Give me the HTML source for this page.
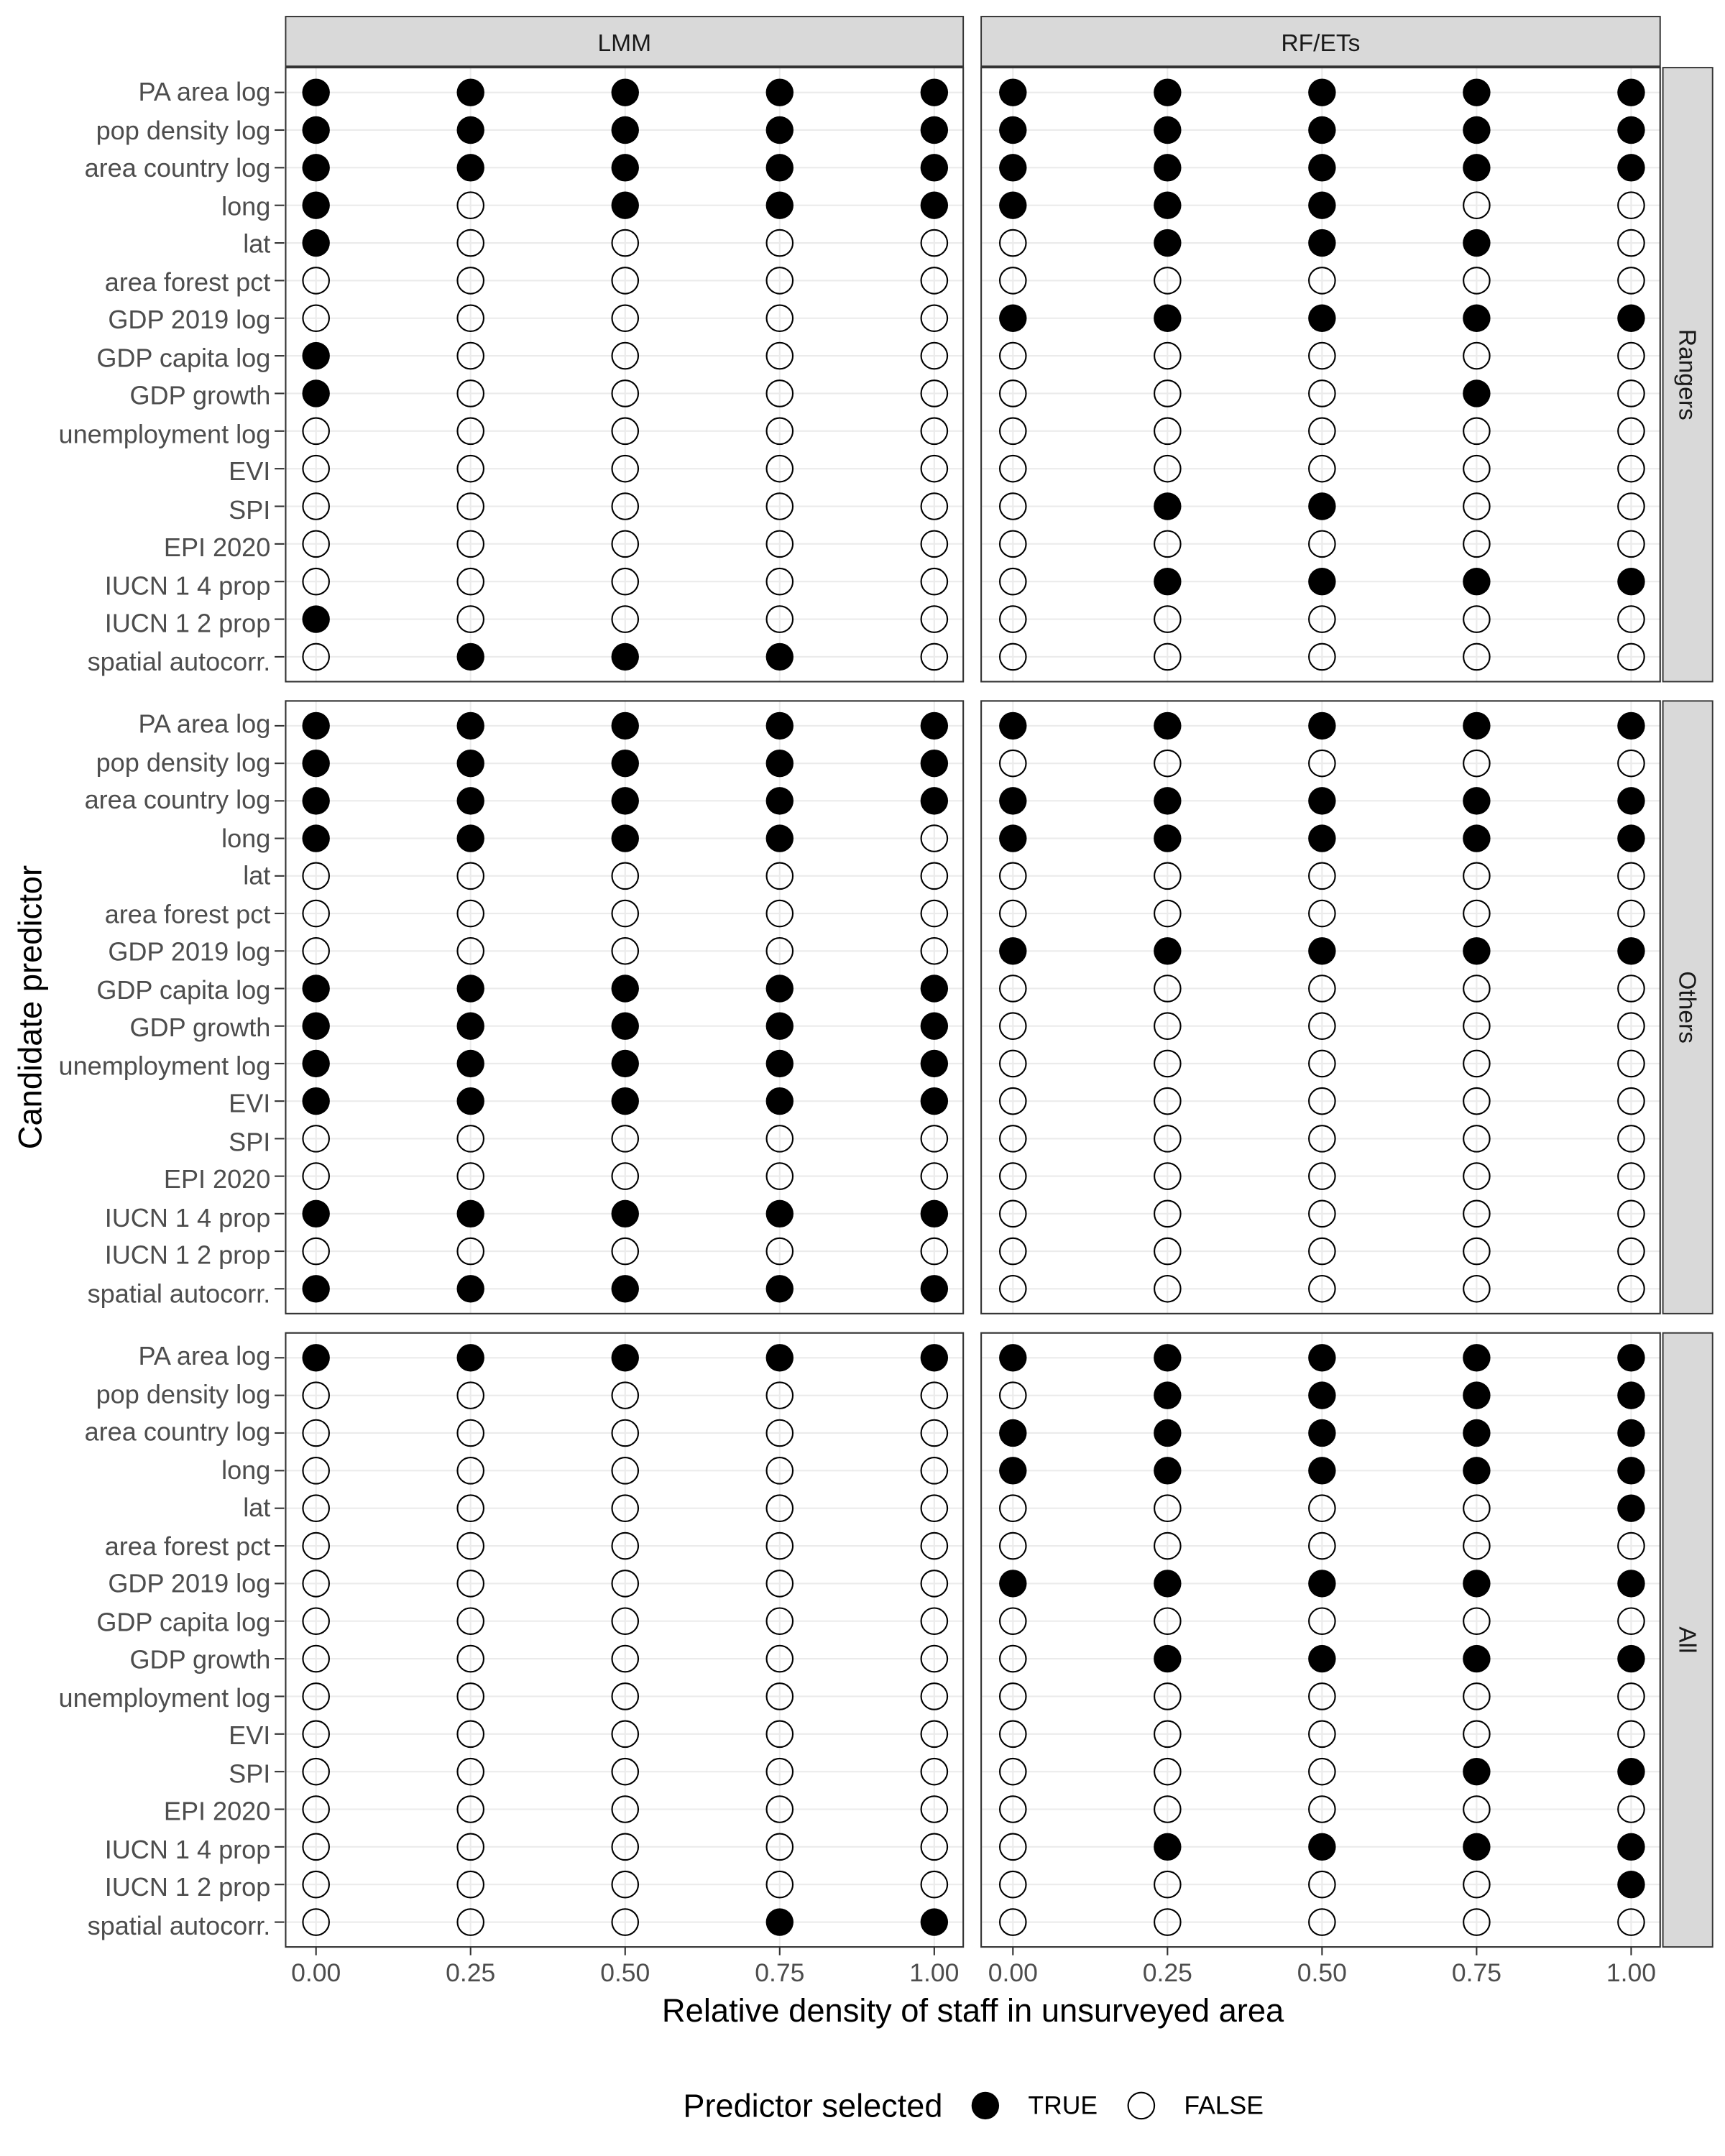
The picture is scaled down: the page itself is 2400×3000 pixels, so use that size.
<!DOCTYPE html>
<html><head><meta charset="utf-8"><style>
html,body{margin:0;padding:0;background:#fff;}
svg{display:block;}
text{font-family:"Liberation Sans",sans-serif;}
</style></head><body>
<svg id="s" width="2400" height="3000" viewBox="0 0 1250 1562.5" preserveAspectRatio="none" xmlns="http://www.w3.org/2000/svg">
<rect width="1250" height="1563" fill="#fff"/>
<g id="grid"></g>
<g id="pts"></g>
<rect x="207" y="12" width="491" height="36" fill="#d9d9d9" stroke="#333" stroke-width="1"/>
<rect x="711" y="12" width="492" height="36" fill="#d9d9d9" stroke="#333" stroke-width="1"/>
<text x="452.5" y="37" font-size="17.5" text-anchor="middle" fill="#1a1a1a">LMM</text>
<text x="957" y="37" font-size="17.5" text-anchor="middle" fill="#1a1a1a">RF/ETs</text>
<rect x="1205" y="49" width="36" height="445" fill="#d9d9d9" stroke="#333" stroke-width="1"/>
<rect x="1205" y="508" width="36" height="444" fill="#d9d9d9" stroke="#333" stroke-width="1"/>
<rect x="1205" y="966" width="36" height="445" fill="#d9d9d9" stroke="#333" stroke-width="1"/>
<text transform="translate(1217,271.5) rotate(90)" font-size="17.5" text-anchor="middle" fill="#1a1a1a">Rangers</text>
<text transform="translate(1217,730) rotate(90)" font-size="17.5" text-anchor="middle" fill="#1a1a1a">Others</text>
<text transform="translate(1217,1188.5) rotate(90)" font-size="17.5" text-anchor="middle" fill="#1a1a1a">All</text>
<g id="lab" font-size="18.8" fill="#4d4d4d" text-anchor="end">
<g>
<text x="196" y="73">PA area log</text><text x="196" y="101">pop density log</text><text x="196" y="128">area country log</text><text x="196" y="156">long</text><text x="196" y="183">lat</text><text x="196" y="211">area forest pct</text><text x="196" y="238">GDP 2019 log</text><text x="196" y="266">GDP capita log</text><text x="196" y="293">GDP growth</text><text x="196" y="321">unemployment log</text><text x="196" y="348">EVI</text><text x="196" y="376">SPI</text><text x="196" y="403">EPI 2020</text><text x="196" y="431">IUCN 1 4 prop</text><text x="196" y="458">IUCN 1 2 prop</text><text x="196" y="486">spatial autocorr.</text>
</g>
<g transform="translate(0,458)">
<text x="196" y="73">PA area log</text><text x="196" y="101">pop density log</text><text x="196" y="128">area country log</text><text x="196" y="156">long</text><text x="196" y="183">lat</text><text x="196" y="211">area forest pct</text><text x="196" y="238">GDP 2019 log</text><text x="196" y="266">GDP capita log</text><text x="196" y="293">GDP growth</text><text x="196" y="321">unemployment log</text><text x="196" y="348">EVI</text><text x="196" y="376">SPI</text><text x="196" y="403">EPI 2020</text><text x="196" y="431">IUCN 1 4 prop</text><text x="196" y="458">IUCN 1 2 prop</text><text x="196" y="486">spatial autocorr.</text>
</g>
<g transform="translate(0,916)">
<text x="196" y="73">PA area log</text><text x="196" y="101">pop density log</text><text x="196" y="128">area country log</text><text x="196" y="156">long</text><text x="196" y="183">lat</text><text x="196" y="211">area forest pct</text><text x="196" y="238">GDP 2019 log</text><text x="196" y="266">GDP capita log</text><text x="196" y="293">GDP growth</text><text x="196" y="321">unemployment log</text><text x="196" y="348">EVI</text><text x="196" y="376">SPI</text><text x="196" y="403">EPI 2020</text><text x="196" y="431">IUCN 1 4 prop</text><text x="196" y="458">IUCN 1 2 prop</text><text x="196" y="486">spatial autocorr.</text>
</g>
</g>
<g font-size="18.5" fill="#4d4d4d" text-anchor="middle">
<text x="229" y="1436">0.00</text><text x="341" y="1436">0.25</text><text x="453" y="1436">0.50</text><text x="565" y="1436">0.75</text><text x="677" y="1436">1.00</text>
<text x="734" y="1436">0.00</text><text x="846" y="1436">0.25</text><text x="958" y="1436">0.50</text><text x="1070" y="1436">0.75</text><text x="1182" y="1436">1.00</text>
</g>
<text x="705" y="1465" font-size="23.6" text-anchor="middle" fill="#000">Relative density of staff in unsurveyed area</text>
<text transform="translate(30,730) rotate(-90)" font-size="23.6" text-anchor="middle" fill="#000">Candidate predictor</text>
<text x="495" y="1534" font-size="23.5" fill="#000">Predictor selected</text>
<circle cx="714" cy="1526" r="10" fill="#000"/>
<text x="745" y="1532" font-size="18.5" fill="#000">TRUE</text>
<circle cx="827" cy="1526" r="9.5" fill="#fff" stroke="#000" stroke-width="1.1"/>
<text x="858" y="1532" font-size="18.5" fill="#000">FALSE</text>
</svg>
<script>
var NS="http://www.w3.org/2000/svg";
function el(p,t,a){var e=document.createElementNS(NS,t);for(var k in a)e.setAttribute(k,a[k]);p.appendChild(e);return e;}
var grid=document.getElementById('grid'),pts=document.getElementById('pts');
var panTop=[49,508,966],panBot=[494,952,1411];
var xs=[[229,341,453,565,677],[734,846,958,1070,1182]];
var px=[[207,698],[711,1203]];
var D=[
[["11111","11111","11111","10111","10000","00000","00000","10000","10000","00000","00000","00000","00000","00000","10000","01110"],
 ["11111","11111","11111","11100","01110","00000","11111","00000","00010","00000","00000","01100","00000","01111","00000","00000"]],
[["11111","11111","11111","11110","00000","00000","00000","11111","11111","11111","11111","00000","00000","11111","00000","11111"],
 ["11111","00000","11111","11111","00000","00000","11111","00000","00000","00000","00000","00000","00000","00000","00000","00000"]],
[["11111","00000","00000","00000","00000","00000","00000","00000","00000","00000","00000","00000","00000","00000","00000","00011"],
 ["11111","01111","11111","11111","00001","00000","11111","00000","01111","00000","00000","00011","00000","01111","00001","00000"]]];
for(var r=0;r<3;r++){
 var y0=panTop[r]+18,step=(panBot[r]-18-y0)/15;
 for(var c=0;c<2;c++){
  var L=px[c][0],R=px[c][1];
  for(var i=0;i<16;i++){var y=y0+i*step;el(grid,'line',{x1:L,x2:R,y1:y,y2:y,stroke:'#ebebeb','stroke-width':1.1});}
  for(var j=0;j<5;j++){el(grid,'line',{x1:xs[c][j],x2:xs[c][j],y1:panTop[r],y2:panBot[r],stroke:'#ebebeb','stroke-width':1.1});}
  for(var i=0;i<16;i++){var y=y0+i*step;for(var j=0;j<5;j++){
    var f=D[r][c][i][j]=="1";
    if(f)el(pts,'circle',{cx:xs[c][j],cy:y,r:10,fill:'#000'});
    else el(pts,'circle',{cx:xs[c][j],cy:y,r:9.5,fill:'none',stroke:'#000','stroke-width':1.1});
  }}
  el(pts,'rect',{x:L,y:panTop[r],width:R-L,height:panBot[r]-panTop[r],fill:'none',stroke:'#333','stroke-width':1.1});
  if(c==0){for(var i=0;i<16;i++){var y=y0+i*step;el(pts,'line',{x1:199,x2:206,y1:y,y2:y,stroke:'#333','stroke-width':1.1});}}
  if(r==2){for(var j=0;j<5;j++){el(pts,'line',{x1:xs[c][j],x2:xs[c][j],y1:1411,y2:1417,stroke:'#333','stroke-width':1.1});}}
 }
}
</script>
</body></html>
